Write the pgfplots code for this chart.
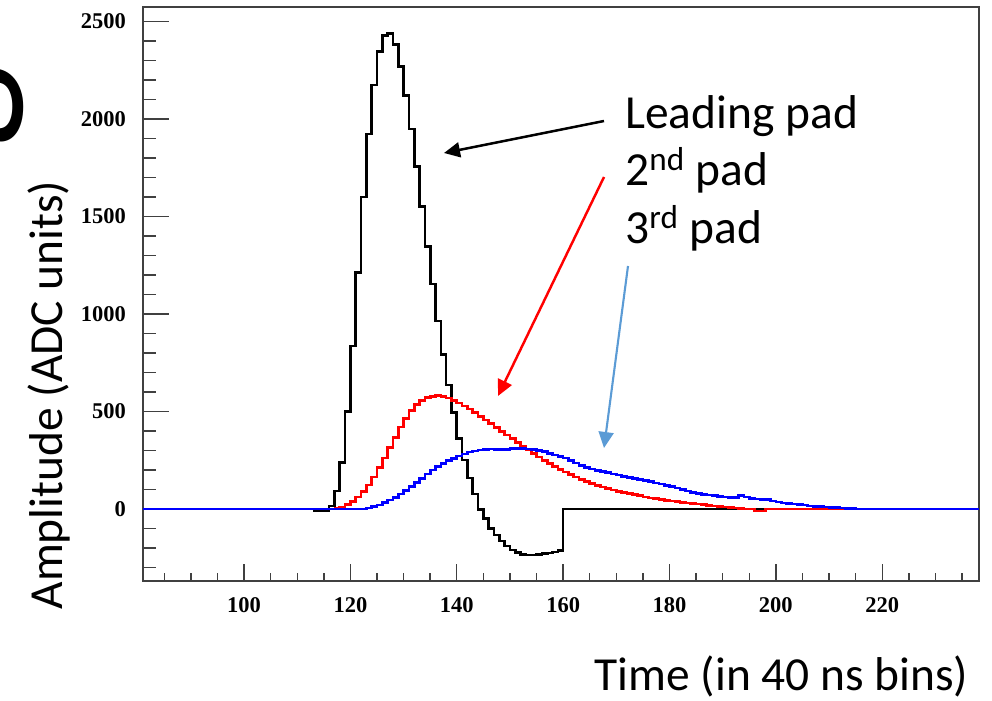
\documentclass[border=0pt]{standalone}
\usepackage{fontspec}
\setmainfont{Liberation Serif}
\newfontfamily\calibri{Carlito}
\usepackage{pgfplots}
\pgfplotsset{compat=1.18}
\usetikzlibrary{arrows.meta}

\begin{document}
\begin{tikzpicture}[x=1cm,y=1cm]
\begin{axis}[
    at={(0,0)}, anchor=south west,
    scale only axis, width=16.72cm, height=11.48cm,
    xmin=81, xmax=238.2, ymin=-369, ymax=2574,
    axis line style={black!75, line width=0.8pt},
    tick align=inside, tick pos=left,
    xtick={100,120,...,220}, minor xtick={85,90,...,235},
    ytick={0,500,...,2500}, minor ytick={-300,-200,...,2500},
    xtick style={/pgfplots/major tick length=0.34cm, /pgfplots/minor tick length=0.17cm},
    ytick style={/pgfplots/major tick length=0.52cm, /pgfplots/minor tick length=0.26cm},
    tick style={black!75, line width=0.8pt},
    /pgf/number format/assume math mode=true,
    /pgf/number format/1000 sep={},
    ticklabel style={font=\fontsize{12.8}{14}\selectfont\bfseries},
    xticklabel style={yshift=-0.18cm},
    yticklabel style={xshift=-0.2cm},
    no marks, line width=1.5pt,
]
% leading pad
\addplot[const plot, black] coordinates {
    (113,-6) (114,-6) (115,-6) (116,15) (117,93) (118,240) (119,499)
    (120,836) (121,1214) (122,1600) (123,1923) (124,2174) (125,2345)
    (126,2427) (127,2439) (128,2383) (129,2268) (130,2120) (131,1949)
    (132,1755) (133,1550) (134,1345) (135,1154) (136,964) (137,793)
    (138,636) (139,496) (140,362) (141,251) (142,160) (143,77) (144,-2)
    (145,-48) (146,-99) (147,-133) (148,-164) (149,-190) (150,-210)
    (151,-224) (152,-232) (153,-236) (154,-236) (155,-233) (156,-229)
    (157,-225) (158,-220) (159,-214) (160,0) (238.2,0)
};
% 2nd pad
\addplot[const plot, red] coordinates {
    (117,3) (118,10) (119,22) (120,40) (121,62) (122,90) (123,124)
    (124,165) (125,212) (126,262) (127,315) (128,368) (129,420) (130,465)
    (131,505) (132,535) (133,557) (134,571) (135,578) (136,581) (137,578)
    (138,569) (139,557) (140,544) (141,529) (142,512) (143,494) (144,475)
    (145,456) (146,437) (147,418) (148,399) (149,380) (150,361) (151,341)
    (152,321) (153,302) (154,284) (155,266) (156,249) (157,233) (158,218)
    (159,204) (160,190) (161,177) (162,165) (163,153) (164,142) (165,132)
    (166,122) (167,113) (168,105) (169,98) (170,91) (171,85) (172,79)
    (173,73) (174,70) (175,62) (176,57) (177,53) (178,49) (179,45)
    (180,42) (181,38) (182,35) (183,31) (184,28) (185,25) (186,22)
    (187,19) (188,16) (189,13) (190,10) (191,8) (192,5) (193,3) (194,1)
    (195,0) (196,-10) (197,-10) (198,0) (215,0)
};
% 3rd pad
\addplot[const plot, blue] coordinates {
    (81,0) (123,5) (124,12) (125,21) (126,33) (127,46) (128,60) (129,77)
    (130,94) (131,115) (132,135) (133,157) (134,179) (135,200) (136,217)
    (137,234) (138,248) (139,260) (140,272) (141,282) (142,292) (143,298)
    (144,303) (145,306) (146,308) (147,306) (148,304) (149,306) (150,309)
    (151,311) (152,310) (153,308) (154,305) (155,300) (156,294) (157,286)
    (158,277) (159,268) (160,262) (161,250) (162,236) (163,224) (164,214)
    (165,206) (166,198) (167,192) (168,186) (169,180) (170,174) (171,168)
    (172,163) (173,158) (174,152) (175,146) (176,140) (177,134) (178,128)
    (179,122) (180,115) (181,108) (182,100) (183,93) (184,86) (185,80)
    (186,76) (187,72) (188,68) (189,65) (190,62) (191,60) (192,58)
    (193,68) (194,62) (195,55) (196,52) (197,50) (198,48) (199,42)
    (200,36) (201,31) (202,28) (203,26) (204,24) (205,20) (206,16)
    (207,14) (208,12) (209,10) (210,9) (211,8) (212,6) (213,4) (214,2)
    (215,0) (238.2,0)
};
\end{axis}

% annotations
\node[font=\calibri\fontsize{27}{32}\selectfont, rotate=90, anchor=base]
    at (-1.62,3.72) {Amplitude (ADC units)};
\node[font=\calibri\fontsize{27}{32}\selectfont, anchor=base]
    at (12.77,-2.18) {Time (in 40 ns bins)};
% edge of a cut-off rotated word
\node[font=\calibri\fontsize{100}{110}\selectfont, rotate=90, anchor=base]
    at (-2.98,9.5) {g};

\node[font=\calibri\fontsize{27}{32}\selectfont, anchor=base west, inner sep=0pt]
    at (9.64,9.04) {Leading pad};
\node[font=\calibri\fontsize{27}{32}\selectfont, anchor=base west, inner sep=0pt]
    at (9.64,7.90) {2\textsuperscript{nd} pad};
\node[font=\calibri\fontsize{27}{32}\selectfont, anchor=base west, inner sep=0pt]
    at (9.64,6.74) {3\textsuperscript{rd} pad};

\draw[black, line width=1.4pt, -{Triangle[length=0.32cm,width=0.3cm]}]
    (9.22,9.20) -- (6.02,8.56);
\draw[red, line width=1.4pt, -{Triangle[length=0.32cm,width=0.3cm]}]
    (9.22,8.08) -- (7.10,3.70);
\draw[color={rgb,255:red,91;green,155;blue,213}, line width=1.2pt,
    -{Triangle[length=0.32cm,width=0.3cm]}]
    (9.70,6.30) -- (9.22,2.66);

\pgfresetboundingbox
\path (-2.86,-2.38) rectangle (16.98,11.62);
\end{tikzpicture}
\end{document}
